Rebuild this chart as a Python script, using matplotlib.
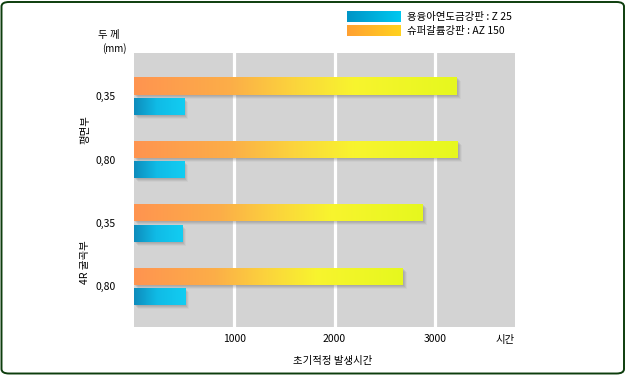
import matplotlib
matplotlib.use("Agg")
import matplotlib.pyplot as plt
import numpy as np
from matplotlib.colors import LinearSegmentedColormap
from matplotlib.patches import FancyBboxPatch
import matplotlib.transforms as mtrans

plt.rcParams['font.family'] = ['Noto Sans CJK KR', 'DejaVu Sans']

# ---- data ----
thickness_labels = ['0,35', '0,80', '0,35', '0,80']
section_labels = ['평면부', '4R 굴곡부']
z25_hours = [500, 500, 480, 510]
az150_hours = [3220, 3230, 2880, 2680]
series_names = ['용융아연도금강판 : Z 25', '슈퍼갈륨강판 : AZ 150']
xticks = [1000, 2000, 3000]
xtick_labels = ['1000', '2000', '3000']

W, H = 626, 375
fig = plt.figure(figsize=(W / 100, H / 100), dpi=100)
fig.patch.set_facecolor('white')

# outer rounded border
border = FancyBboxPatch((1.5 / W, 1.5 / H), (W - 3.5) / W, (H - 3.5) / H,
                        boxstyle="round,pad=0,rounding_size=0.012",
                        transform=fig.transFigure, facecolor='none',
                        edgecolor='#0d3d0d', linewidth=1.4, zorder=0)
fig.patches.append(border)

ax = fig.add_axes([134 / W, (H - 327) / H, 381 / W, 274 / H])
ax.set_facecolor('#d3d3d3')
for s in ax.spines.values():
    s.set_visible(False)

y = np.arange(len(thickness_labels))
bh = 0.27
off = 0.16

orange_cmap = LinearSegmentedColormap.from_list('o', [
    (0.0, '#ff9450'), (0.3, '#fcae48'), (0.5, '#fbd53c'),
    (0.68, '#f8f42e'), (1.0, '#e6f81e')])
blue_cmap = LinearSegmentedColormap.from_list('b', [
    (0.0, '#0e8cbc'), (0.45, '#10bbe6'), (1.0, '#12cdf2')])

xmin, xmax = 0, 3800
ymin, ymax = 3.64, -0.68

# grid
for xv in xticks:
    ax.axvline(xv, color='white', linewidth=2.3, zorder=1)

# shadows
for dx, dy, a in [(3, -3, 0.10), (2, -2, 0.12), (1, -1, 0.12), (4, -4, 0.06)]:
    tr = mtrans.offset_copy(ax.transData, fig=fig, x=dx, y=dy, units='dots')
    ax.barh(y - off, az150_hours, height=bh, color='#606060', alpha=a,
            transform=tr, zorder=2, linewidth=0)
    ax.barh(y + off, z25_hours, height=bh, color='#606060', alpha=a,
            transform=tr, zorder=2, linewidth=0)

grad = np.linspace(0, 1, 256).reshape(1, -1)
bars_o = ax.barh(y - off, az150_hours, height=bh, color='none', zorder=3, linewidth=0)
bars_b = ax.barh(y + off, z25_hours, height=bh, color='none', zorder=3, linewidth=0)
for bars, cmap in [(bars_o, orange_cmap), (bars_b, blue_cmap)]:
    for b in bars:
        x0, y0, w, h = b.get_x(), b.get_y(), b.get_width(), b.get_height()
        im = ax.imshow(grad, cmap=cmap, aspect='auto',
                       extent=[x0, x0 + w, y0 + h, y0], zorder=3,
                       interpolation='bilinear')
        im.set_clip_path(b)

ax.set_xlim(xmin, xmax)
ax.set_ylim(ymin, ymax)
ax.set_xticks(xticks)
ax.set_xticklabels(xtick_labels, fontsize=7.5)
ax.set_yticks(y)
ax.set_yticklabels(thickness_labels, fontsize=7.5)
ax.tick_params(axis='y', length=0, pad=13)
ax.tick_params(axis='x', length=0, pad=5)

def ftext(px, py, s, **kw):
    fig.text(px / W, 1 - py / H, s, **kw)

ftext(505, 340, '시간', ha='center', va='center', fontsize=7.5)
ftext(333, 361, '초기적정 발생시간', ha='center', va='center', fontsize=7.5)
ftext(109, 35, '두 께', ha='center', va='center', fontsize=7.5)
ftext(114, 49, '(mm)', ha='center', va='center', fontsize=7)
ftext(85, 130, section_labels[0], ha='center', va='center', fontsize=7.5, rotation=90)
ftext(85, 262, section_labels[1], ha='center', va='center', fontsize=7.5, rotation=90)

# legend
lax = fig.add_axes([0, 0, 1, 1], zorder=5)
lax.set_xlim(0, W)
lax.set_ylim(H, 0)
lax.axis('off')
sw_b = LinearSegmentedColormap.from_list('sb', ['#0094c6', '#00c8f0'])
sw_o = LinearSegmentedColormap.from_list('so', ['#ffa032', '#ffd21e'])
lax.imshow(grad, cmap=sw_b, aspect='auto', extent=[347, 401, 22.5, 11.5])
lax.imshow(grad, cmap=sw_o, aspect='auto', extent=[347, 401, 36.5, 25.5])
lax.set_xlim(0, W)
lax.set_ylim(H, 0)
lax.text(407, 17, series_names[0], ha='left', va='center', fontsize=7.5)
lax.text(407, 31, series_names[1], ha='left', va='center', fontsize=7.5)

fig.savefig('out.png', dpi=100)
